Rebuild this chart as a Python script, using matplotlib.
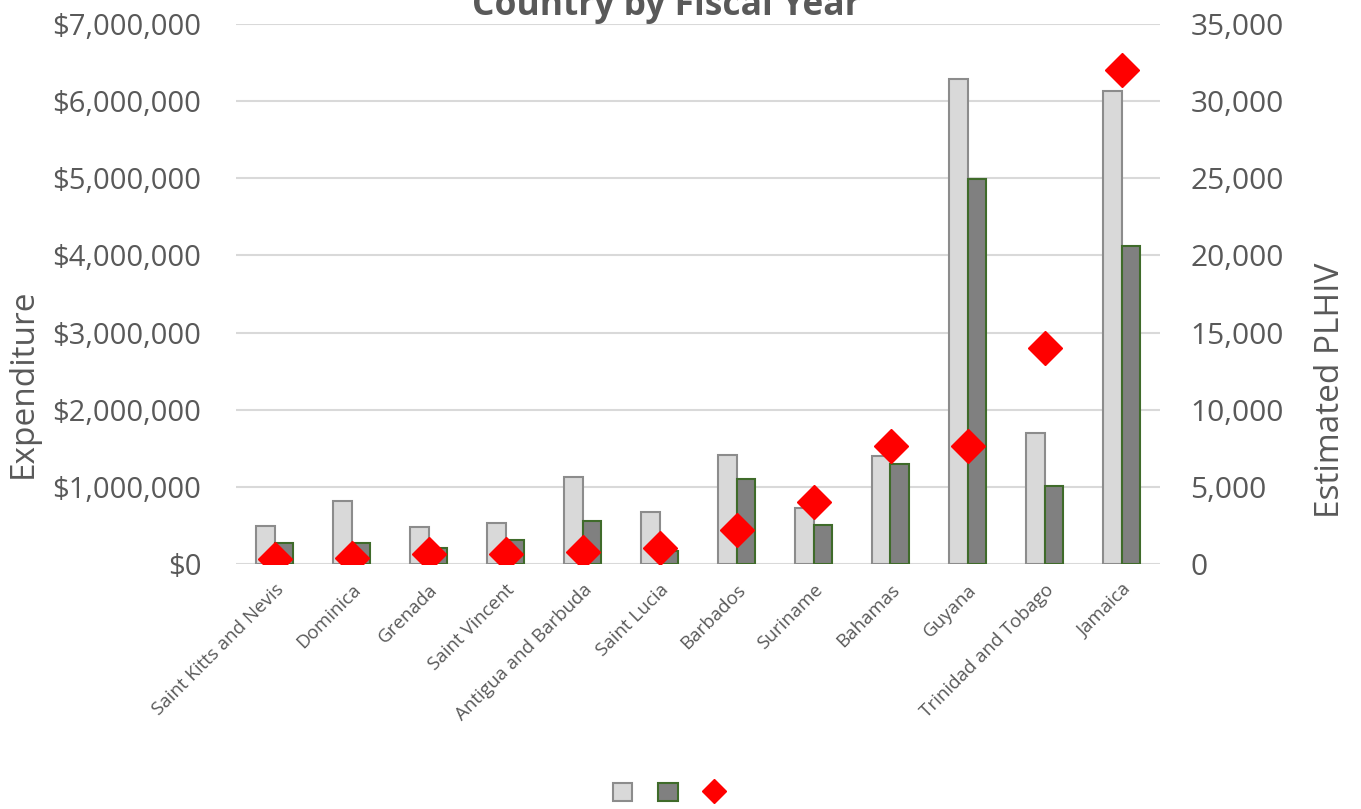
import matplotlib
matplotlib.use("Agg")
import matplotlib.pyplot as plt
import numpy as np
from matplotlib.ticker import FuncFormatter, MultipleLocator
from matplotlib.lines import Line2D
from matplotlib.patches import Patch

countries = ["Saint Kitts and Nevis", "Dominica", "Grenada", "Saint Vincent",
             "Antigua and Barbuda", "Saint Lucia", "Barbados", "Suriname",
             "Bahamas", "Guyana", "Trinidad and Tobago", "Jamaica"]
expenditure_fy1 = [490000, 820000, 480000, 530000, 1130000, 670000, 1410000,
                   730000, 1400000, 6290000, 1700000, 6130000]
expenditure_fy2 = [270000, 270000, 210000, 310000, 560000, 170000, 1100000,
                   510000, 1290000, 4990000, 1010000, 4120000]
plhiv = [350, 400, 650, 650, 750, 1050, 2200, 4000, 7650, 7650, 14000, 32000]

plt.rcParams['font.family'] = ['Open Sans', 'DejaVu Sans']
txt = '#595959'

fig = plt.figure(figsize=(13.61, 8.09), dpi=100)
ax = fig.add_axes([236/1361, 1 - 564/809, 924/1361, 540/809])
ax2 = ax.twinx()

x = np.arange(len(countries))
w = 0.24
ax.bar(x - w/2, expenditure_fy1, width=w, color='#d9d9d9', edgecolor='#8c8c8c', linewidth=1.5, zorder=2)
ax.bar(x + w/2, expenditure_fy2, width=w, color='#808080', edgecolor='#3f6b2a', linewidth=1.5, zorder=2)
ax2.plot(x, plhiv, linestyle='none', marker='D', markersize=17, color='#ff0000', zorder=3)

ax.set_xlim(-0.5, len(countries) - 0.5)
ax.set_ylim(0, 7000000)
ax2.set_ylim(0, 35000)
ax.yaxis.set_major_locator(MultipleLocator(1000000))
ax2.yaxis.set_major_locator(MultipleLocator(5000))
ax.yaxis.set_major_formatter(FuncFormatter(lambda v, p: f"${v:,.0f}"))
ax2.yaxis.set_major_formatter(FuncFormatter(lambda v, p: f"{v:,.0f}"))
ax.grid(axis='y', color='#d9d9d9', linewidth=1.5, zorder=0)
ax.set_axisbelow(True)
for a in (ax, ax2):
    for s in a.spines.values():
        s.set_visible(False)
    a.tick_params(length=0, labelsize=21.5, labelcolor=txt)
ax.tick_params(axis='y', labelsize=21, pad=25)
ax2.tick_params(axis='y', pad=22)

ax.set_xticks(x)
ax.set_xticklabels(countries, rotation=45, ha='right', rotation_mode='anchor', fontsize=13.5, color=txt)
ax.tick_params(axis='x', pad=12)

ax.set_ylabel("Expenditure", fontsize=24, color=txt)
ax2.set_ylabel("Estimated PLHIV", fontsize=24, color=txt)
bb = ax.get_position()
def fy(py):
    return ((1 - py/809) - bb.y0) / bb.height
def fx(px):
    return (px/1361 - bb.x0) / bb.width
ax.yaxis.set_label_coords(fx(40), fy(383))
ax2.yaxis.set_label_coords(fx(1314), fy(390))

fig.text(666/1361, 1 - 6/809, "Country by Fiscal Year", ha='center', va='center',
         fontsize=25.5, fontweight='bold', color=txt)

handles = [Patch(facecolor='#d9d9d9', edgecolor='#8c8c8c', linewidth=1.5),
           Patch(facecolor='#808080', edgecolor='#3f6b2a', linewidth=1.5),
           Line2D([], [], linestyle='none', marker='D', markersize=12, color='#ff0000')]
fig.legend(handles, ['', '', ''], loc='center', bbox_to_anchor=(668/1361, 1 - 793/809),
           ncol=3, frameon=False, handlelength=1.0, handleheight=1.0,
           handletextpad=0.0, columnspacing=1.35, fontsize=14)

fig.savefig("out.png", dpi=100)
